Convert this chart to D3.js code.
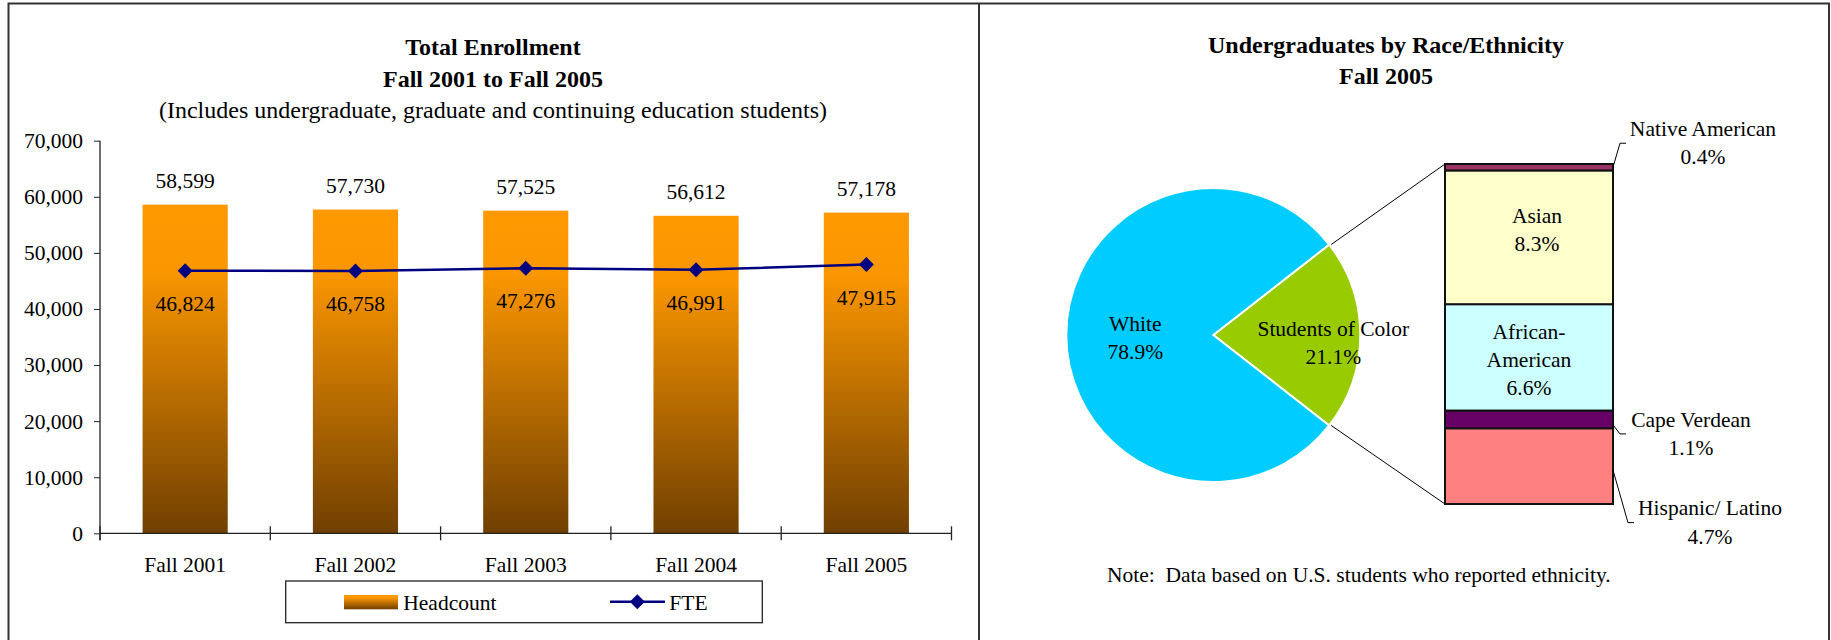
<!DOCTYPE html>
<html>
<head>
<meta charset="utf-8">
<script src="https://cdn.jsdelivr.net/npm/d3@7"></script>
<style>
  body { margin: 0; background: #fff; }
  text { font-family: "Liberation Serif", "Times New Roman", serif; fill: #000; }
</style>
</head>
<body>
<div></div>
<script>
// ---- data: left chart
const years = ["Fall 2001", "Fall 2002", "Fall 2003", "Fall 2004", "Fall 2005"];
const headcount = [58599, 57730, 57525, 56612, 57178];
const fte = [46824, 46758, 47276, 46991, 47915];
const yTicks = [0, 10000, 20000, 30000, 40000, 50000, 60000, 70000];

// ---- data: right chart
const pieNames = ["Students of Color", "White"];
const pieValues = [21.1, 78.9];
const pieColors = ["#99CC00", "#00CCFF"];
// bottom to top in the stacked bar
const groups = ["Hispanic/ Latino", "Cape Verdean", "African-American", "Asian", "Native American"];
const groupValues = [4.7, 1.1, 6.6, 8.3, 0.4];
const groupColors = ["#FF8080", "#660066", "#CCFFFF", "#FFFFCC", "#993366"];

const w = 1831;
const h = 640;
const fs = 21.5;
const svg = d3.select("div").append("svg").attr("width", w).attr("height", h);

// frame around both panels
svg.append("rect")
  .attr("x", 8.5).attr("y", 3.5)
  .attr("width", 1820.5).attr("height", 700)
  .attr("fill", "none").attr("stroke", "#333").attr("stroke-width", 2);
svg.append("line")
  .attr("x1", 979).attr("x2", 979).attr("y1", 3).attr("y2", h)
  .attr("stroke", "#333").attr("stroke-width", 2);

// headcount gradient
const grad = svg.append("defs").append("linearGradient")
  .attr("id", "hcGrad").attr("x1", 0).attr("y1", 0).attr("x2", 0).attr("y2", 1);
grad.append("stop").attr("offset", "0%").attr("stop-color", "#FF9900");
grad.append("stop").attr("offset", "20%").attr("stop-color", "#FA9600");
grad.append("stop").attr("offset", "100%").attr("stop-color", "#703F00");

// ---------- left chart ----------
const title = svg.append("g").attr("text-anchor", "middle");
title.append("text").attr("x", 493).attr("y", 47).attr("dominant-baseline", "central")
  .attr("font-size", 24).attr("font-weight", "bold").text("Total Enrollment");
title.append("text").attr("x", 493).attr("y", 79).attr("dominant-baseline", "central")
  .attr("font-size", 24).attr("font-weight", "bold").text("Fall 2001 to Fall 2005");
title.append("text").attr("x", 493).attr("y", 110).attr("dominant-baseline", "central")
  .attr("font-size", 24).text("(Includes undergraduate, graduate and continuing education students)");

const xScale = d3.scaleBand().domain(years).range([100, 951.5]).paddingInner(0.5).paddingOuter(0.25);
const yScale = d3.scaleLinear().domain([0, 70000]).range([533.3, 140.7]);
const y0 = yScale(0);

svg.selectAll(".bar")
  .data(headcount)
  .enter()
  .append("rect")
  .attr("class", "bar")
  .attr("x", (d, i) => xScale(years[i]))
  .attr("y", (d) => yScale(d))
  .attr("width", xScale.bandwidth())
  .attr("height", (d) => y0 - yScale(d))
  .attr("fill", "url(#hcGrad)");

// y axis
svg.append("g")
  .attr("transform", "translate(100,0)")
  .call(d3.axisLeft(yScale).tickValues(yTicks).tickFormat(d3.format(",")).tickSize(6).tickPadding(11).tickSizeOuter(0))
  .attr("font-size", fs)
  .attr("color", "#222")
  .call((g) => g.select(".domain").remove())
  .call((g) => g.selectAll(".tick text").attr("fill", "#000"));
svg.append("line")
  .attr("x1", 100).attr("x2", 100)
  .attr("y1", yScale(70000)).attr("y2", y0 + 7)
  .attr("stroke", "#222").attr("stroke-width", 1.3);

// x axis with ticks crossing between categories
svg.append("line")
  .attr("x1", xScale.range()[0]).attr("x2", xScale.range()[1])
  .attr("y1", y0).attr("y2", y0)
  .attr("stroke", "#222").attr("stroke-width", 1.3);
svg.selectAll(".xtick")
  .data(d3.range(years.length + 1))
  .enter()
  .append("line")
  .attr("x1", (i) => xScale.range()[0] + i * xScale.step())
  .attr("x2", (i) => xScale.range()[0] + i * xScale.step())
  .attr("y1", y0 - 7).attr("y2", y0 + 7)
  .attr("stroke", "#222").attr("stroke-width", 1.3);
svg.selectAll(".xlabel")
  .data(years)
  .enter()
  .append("text")
  .attr("x", (d) => xScale(d) + xScale.bandwidth() / 2)
  .attr("y", y0 + 32)
  .attr("text-anchor", "middle").attr("dominant-baseline", "central")
  .attr("font-size", fs)
  .text((d) => d);

// FTE line
const cx = (i) => xScale(years[i]) + xScale.bandwidth() / 2;
svg.append("path")
  .datum(fte)
  .attr("d", d3.line().x((d, i) => cx(i)).y((d) => yScale(d)))
  .attr("fill", "none").attr("stroke", "#000080").attr("stroke-width", 2.5);
const diamond = d3.symbol(d3.symbolSquare, 112);
svg.selectAll(".fteMark")
  .data(fte)
  .enter()
  .append("path")
  .attr("d", diamond)
  .attr("transform", (d, i) => "translate(" + cx(i) + "," + yScale(d) + ") rotate(45)")
  .attr("fill", "#000080");

// value labels
svg.selectAll(".hcLabel")
  .data(headcount)
  .enter()
  .append("text")
  .attr("x", (d, i) => cx(i))
  .attr("y", (d) => yScale(d) - 24)
  .attr("text-anchor", "middle").attr("dominant-baseline", "central")
  .attr("font-size", fs)
  .text((d) => d3.format(",")(d));
svg.selectAll(".fteLabel")
  .data(fte)
  .enter()
  .append("text")
  .attr("x", (d, i) => cx(i))
  .attr("y", (d) => yScale(d) + 33)
  .attr("text-anchor", "middle").attr("dominant-baseline", "central")
  .attr("font-size", fs)
  .text((d) => d3.format(",")(d));

// legend
const lg = svg.append("g");
lg.append("rect")
  .attr("x", 285.7).attr("y", 581).attr("width", 476.6).attr("height", 41.7)
  .attr("fill", "#fff").attr("stroke", "#222").attr("stroke-width", 1.3);
lg.append("rect")
  .attr("x", 344).attr("y", 595).attr("width", 54).attr("height", 14.3)
  .attr("fill", "url(#hcGrad)");
lg.append("text").attr("x", 403.3).attr("y", 602.5).attr("dominant-baseline", "central")
  .attr("font-size", fs).text("Headcount");
lg.append("line").attr("x1", 610).attr("x2", 665).attr("y1", 601.7).attr("y2", 601.7)
  .attr("stroke", "#000080").attr("stroke-width", 2.5);
lg.append("path").attr("d", diamond)
  .attr("transform", "translate(637.3,601.7) rotate(45)").attr("fill", "#000080");
lg.append("text").attr("x", 669.3).attr("y", 602.5).attr("dominant-baseline", "central")
  .attr("font-size", fs).text("FTE");

// ---------- right chart ----------
const title2 = svg.append("g").attr("text-anchor", "middle")
  .attr("font-size", 24).attr("font-weight", "bold");
title2.append("text").attr("x", 1386).attr("y", 45).attr("dominant-baseline", "central")
  .text("Undergraduates by Race/Ethnicity");
title2.append("text").attr("x", 1386).attr("y", 76).attr("dominant-baseline", "central")
  .text("Fall 2005");

const pcx = 1213.3;
const pcy = 335;
const r = 147;
const share = pieValues[0] / d3.sum(pieValues);
const start = Math.PI / 2 - share * Math.PI;
const pie = d3.pie().sort(null).startAngle(start).endAngle(start + 2 * Math.PI);
const arcs = pie(pieValues);
const arc = d3.arc().innerRadius(0).outerRadius(r);
const pg = svg.append("g").attr("transform", "translate(" + pcx + "," + pcy + ")");
pg.selectAll("path")
  .data(arcs)
  .enter()
  .append("path")
  .attr("d", arc)
  .attr("fill", (d, i) => pieColors[i])
  .attr("stroke", "#fff").attr("stroke-width", 2);

const pieLabelPos = [{ r: 120, dy: -6 }, { r: 78, dy: -11 }];
arcs.forEach((a, i) => {
  const c = d3.arc().innerRadius(pieLabelPos[i].r).outerRadius(pieLabelPos[i].r).centroid(a);
  const t = pg.append("text")
    .attr("text-anchor", "middle").attr("dominant-baseline", "central")
    .attr("font-size", fs);
  t.append("tspan").attr("x", c[0]).attr("y", c[1] + pieLabelPos[i].dy).text(pieNames[i]);
  t.append("tspan").attr("x", c[0]).attr("y", c[1] + pieLabelPos[i].dy + 28)
    .text(d3.format(".1f")(pieValues[i]) + "%");
});

// stacked bar of students of color
const bx = 1445;
const bw = 168;
const total = d3.sum(groupValues);
const ys = d3.scaleLinear().domain([0, total]).range([504, 164]);
const tops = Array.from(d3.cumsum(groupValues));
const segs = groups.map((g, i) => ({ name: g, v: groupValues[i], lo: tops[i] - groupValues[i], hi: tops[i], color: groupColors[i] }));

svg.selectAll(".seg")
  .data(segs)
  .enter()
  .append("rect")
  .attr("x", bx)
  .attr("y", (d) => ys(d.hi))
  .attr("width", bw)
  .attr("height", (d) => ys(d.lo) - ys(d.hi))
  .attr("fill", (d) => d.color)
  .attr("stroke", "#111").attr("stroke-width", 2);

// connector lines from the wedge to the bar
const soc = arcs[0];
const edge = (a) => [pcx + r * Math.sin(a), pcy - r * Math.cos(a)];
[[soc.startAngle, total], [soc.endAngle, 0]].forEach(([a, v]) => {
  const p = edge(a);
  svg.append("line")
    .attr("x1", p[0] + 2).attr("y1", p[1])
    .attr("x2", bx).attr("y2", ys(v))
    .attr("stroke", "#000").attr("stroke-width", 1);
});

// labels: inside for big segments, leader lines for small ones
const labelLines = (d) =>
  (d.name === "African-American" ? ["African-", "American"] : [d.name]).concat([d3.format(".1f")(d.v) + "%"]);
const inside = { "Asian": -7, "African-American": 2.5 };
const outside = {
  "Native American": { y0: 0, dy: -24, ex: 7, cx: 90 },
  "Cape Verdean": { y0: 5.5, dy: 14.5, ex: 7, cx: 78 },
  "Hispanic/ Latino": { y0: 4, dy: 56.5, ex: 15, cx: 97 },
};
segs.forEach((d) => {
  const mid = (ys(d.lo) + ys(d.hi)) / 2;
  const lines = labelLines(d);
  let lx, ly;
  if (d.name in inside) {
    lx = bx + bw / 2 + (d.name === "Asian" ? 8 : 0);
    ly = mid + inside[d.name];
  } else {
    const o = outside[d.name];
    const x1 = bx + bw;
    const yy = mid + o.dy;
    svg.append("polyline")
      .attr("points", [[x1, mid + o.y0], [x1 + o.ex, yy], [x1 + o.ex + 6, yy]].join(" "))
      .attr("fill", "none").attr("stroke", "#000").attr("stroke-width", 1);
    lx = x1 + o.cx;
    ly = yy;
  }
  const t = svg.append("text")
    .attr("text-anchor", "middle").attr("dominant-baseline", "central")
    .attr("font-size", fs);
  lines.forEach((s, k) => {
    t.append("tspan").attr("x", lx).attr("y", ly + (k - (lines.length - 1) / 2) * 28.3).text(s);
  });
});

svg.append("text")
  .attr("x", 1107).attr("y", 575).attr("dominant-baseline", "central")
  .attr("font-size", fs)
  .text("Note:  Data based on U.S. students who reported ethnicity.")
  .attr("xml:space", "preserve")
  .style("white-space", "pre");
</script>
</body>
</html>
